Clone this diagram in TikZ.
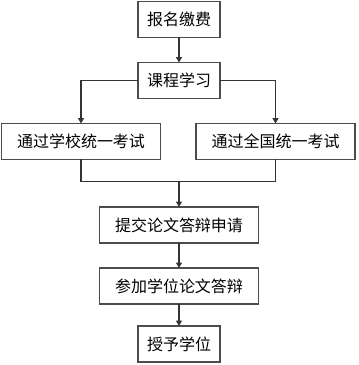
\documentclass[tikz,border=0pt]{standalone}
\usepackage{fontspec}
\setmainfont{Noto Sans CJK SC}
\usepackage{tikz}
\usetikzlibrary{positioning, arrows.meta}

\begin{document}
\begin{tikzpicture}[
    node distance=18.75pt,
    box/.style={
        rectangle,
        draw=black!70,
        line width=1.1pt,
        align=center,
        inner sep=0pt,
        outer sep=0pt,
        font=\fontsize{12pt}{14pt}\selectfont,
        minimum width=61.5pt,
        minimum height=27pt
    },
    widebox/.style={
        box,
        minimum width=119pt
    },
    arrow/.style={
        draw=black!80,
        line width=0.8pt,
        -{Triangle[length=4pt,width=4.5pt]}
    },
    line/.style={
        draw=black!80,
        line width=0.8pt
    }
]

\useasboundingbox (0,0) rectangle (268.5pt,-273.75pt);

% Main nodes
\node[box] (baoming) at (134.25pt,-14.6pt) {报名缴费};

\node[box, below=of baoming] (kecheng) {课程学习};

% Two exam nodes
\node[widebox, below=of kecheng, xshift=-73.5pt] (xuexiao) {通过学校统一考试};

\node[widebox, below=of kecheng, xshift=72.4pt] (quanguo) {通过全国统一考试};

% Lower nodes
\node[widebox, below=35.6pt of kecheng |- xuexiao.south] (shenqing) {提交论文答辩申请};

\node[widebox, below=of shenqing] (dabian) {参加学位论文答辩};

\node[box, below=16.5pt of dabian] (shouyu) {授予学位};

\coordinate[above=18.75pt of shenqing] (join);

% Arrows
\draw[arrow] (baoming) -- (kecheng);

\draw[arrow] (kecheng.west) -| (xuexiao);
\draw[arrow] (kecheng.east) -| (quanguo);

\draw[line] (xuexiao.south) |- (join) -| (quanguo.south);
\draw[arrow] (join) -- (shenqing);

\draw[arrow] (shenqing) -- (dabian);
\draw[arrow] (dabian) -- (shouyu);

\end{tikzpicture}
\end{document}
